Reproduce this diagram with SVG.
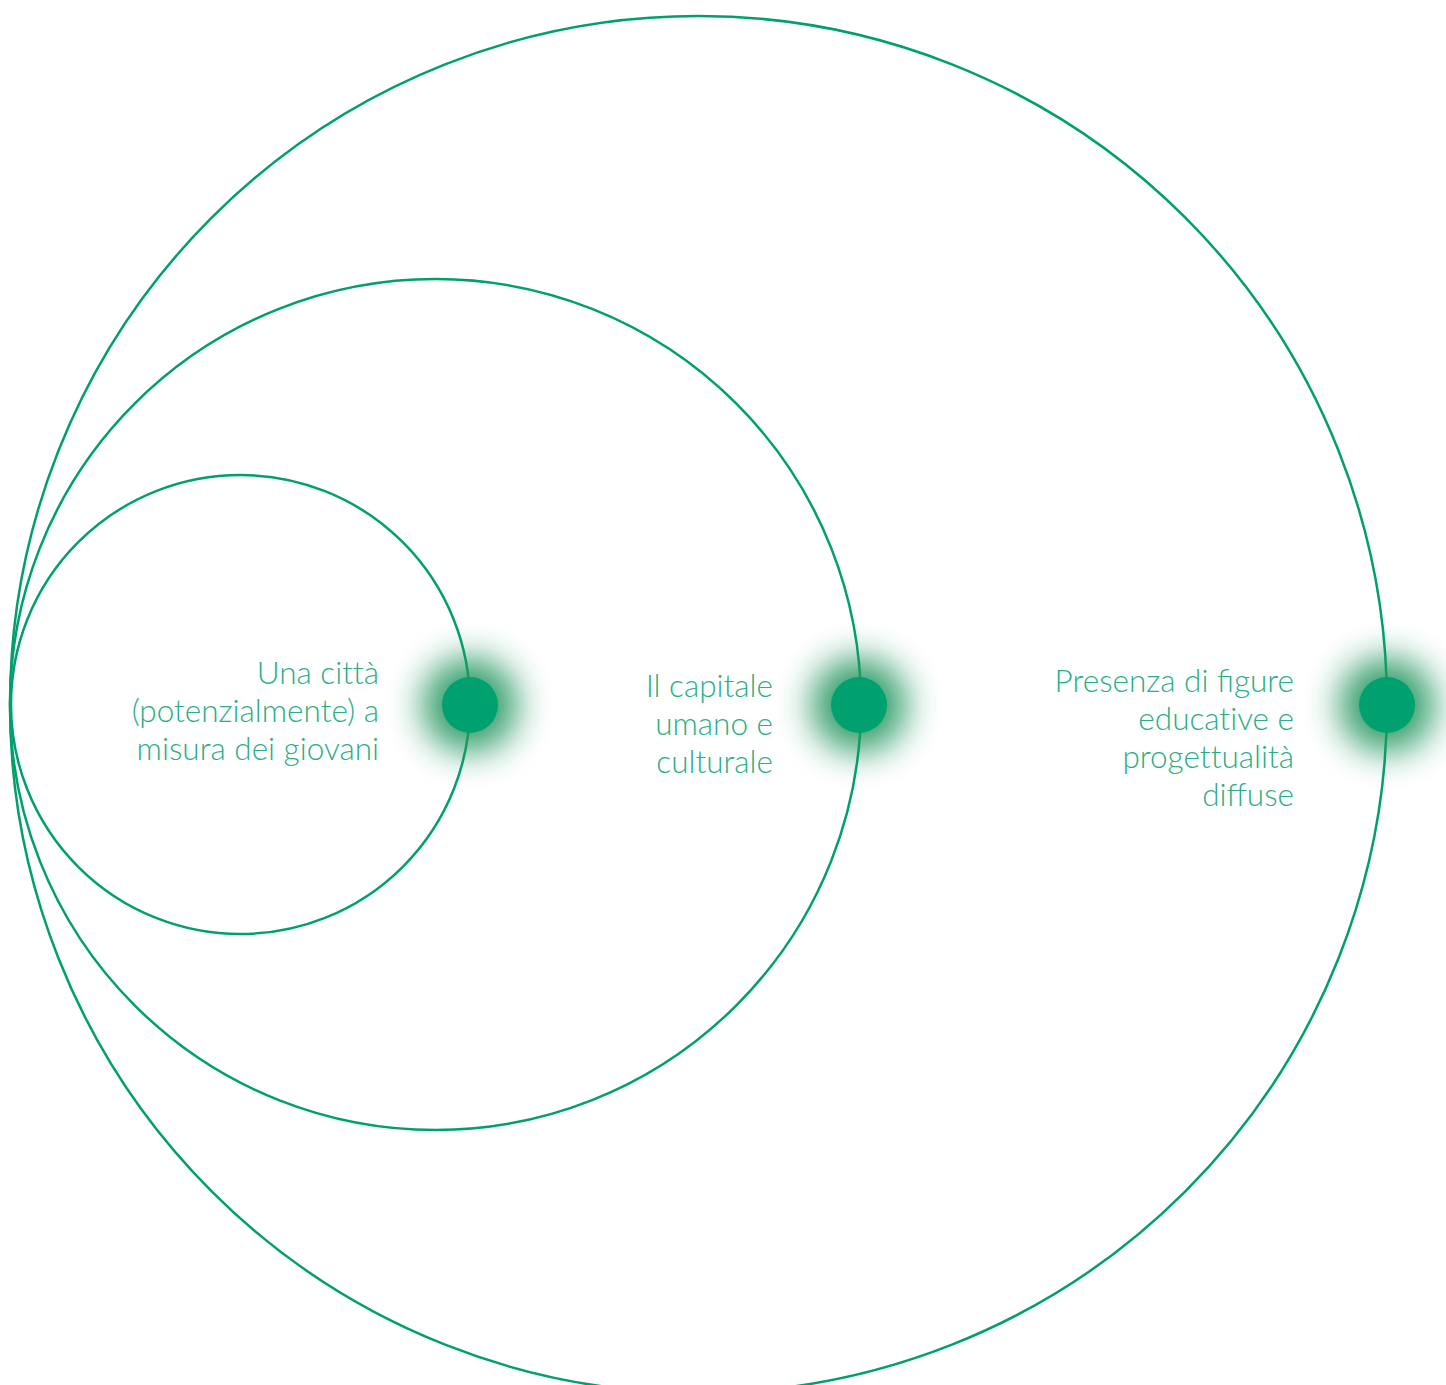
<svg xmlns="http://www.w3.org/2000/svg" width="1446" height="1385" viewBox="0 0 1446 1385">
<defs>
<style>
.ring{fill:none;stroke:#00a06e;stroke-width:2.5}
.dot{fill:#00a06f}
.glow{fill:#23965f;opacity:0.9;filter:url(#blur)}
.lbl{font-family:Lato,"Open Sans",sans-serif;font-weight:300;font-size:31.5px;fill:#2aae84;text-anchor:end}
.nolig{font-variant-ligatures:none}
</style>
<filter id="blur" x="-1" y="-1" width="3" height="3"><feGaussianBlur stdDeviation="17"/></filter>
</defs>
<rect width="1446" height="1385" fill="#ffffff"/>
<g id="connectors">
<circle class="ring" cx="240.5" cy="704.5" r="229.5"/>
<circle class="ring" cx="435.5" cy="704.5" r="425.5"/>
<circle class="ring" cx="698.5" cy="704.5" r="688.5"/>
</g>
<g id="node1">
<circle class="glow" cx="470" cy="705" r="48"/>
<circle class="dot" cx="470" cy="705" r="28"/>
<text class="lbl"><tspan x="379" y="684" class="nolig">Una città</tspan><tspan x="379" y="722">(potenzialmente) a</tspan><tspan x="379" y="760">misura dei giovani</tspan></text>
</g>
<g id="node2">
<circle class="glow" cx="859" cy="705" r="48"/>
<circle class="dot" cx="859" cy="705" r="28"/>
<text class="lbl"><tspan x="773" y="697">Il capitale</tspan><tspan x="773" y="735">umano e</tspan><tspan x="773" y="773">culturale</tspan></text>
</g>
<g id="node3">
<circle class="glow" cx="1387" cy="705" r="48"/>
<circle class="dot" cx="1387" cy="705" r="28"/>
<text class="lbl"><tspan x="1294" y="692">Presenza di figure</tspan><tspan x="1294" y="730" class="nolig">educative e</tspan><tspan x="1294" y="768" class="nolig">progettualità</tspan><tspan x="1294" y="806">diffuse</tspan></text>
</g>
</svg>
